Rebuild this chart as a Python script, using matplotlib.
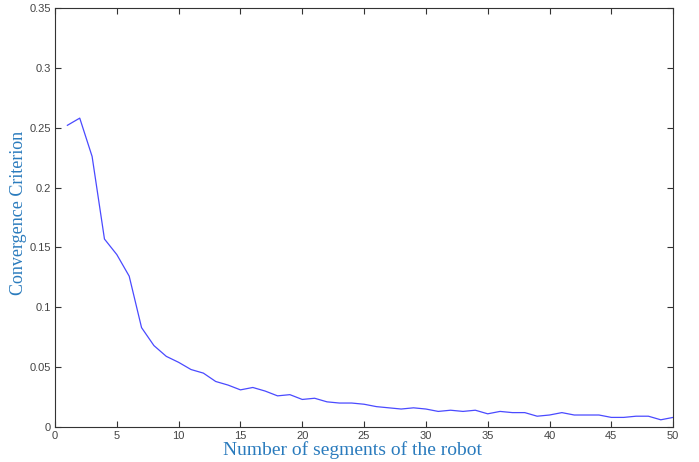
import matplotlib
matplotlib.use("Agg")
import matplotlib.pyplot as plt
import numpy as np

segments = np.arange(1, 51)
criterion = [0.252, 0.258, 0.226, 0.157, 0.144, 0.126, 0.083, 0.068, 0.059, 0.054,
             0.048, 0.045, 0.038, 0.035, 0.031, 0.033, 0.030, 0.026, 0.027, 0.023,
             0.024, 0.021, 0.020, 0.020, 0.019, 0.017, 0.016, 0.015, 0.016, 0.015,
             0.013, 0.014, 0.013, 0.014, 0.011, 0.013, 0.012, 0.012, 0.009, 0.010,
             0.012, 0.010, 0.010, 0.010, 0.008, 0.008, 0.009, 0.009, 0.006, 0.008]

label_col = '#2a7bbd'

fig = plt.figure(figsize=(6.99, 4.62), dpi=100)
ax = fig.add_axes([0.0787, 0.0758, 0.8843, 0.9069])

ax.plot(segments, criterion, color='#4a4aff', linewidth=0.9)

ax.set_xlim(0, 50)
ax.set_ylim(0, 0.35)
ax.set_xticks(np.arange(0, 51, 5))
ax.set_yticks(np.arange(0, 0.351, 0.05))
ax.set_yticklabels(['0', '0.05', '0.1', '0.15', '0.2', '0.25', '0.3', '0.35'])
ax.tick_params(direction='in', top=True, right=True, length=4, width=0.8,
               labelsize=8, labelcolor='#444444', color='#333333')
ax.tick_params(axis='x', pad=3)
ax.tick_params(axis='y', pad=3)
for lab in ax.get_xticklabels() + ax.get_yticklabels():
    lab.set_family('Liberation Sans')
for s in ax.spines.values():
    s.set_linewidth(0.8)
    s.set_color('#333333')

ax.set_xlabel('Number of segments of the robot', family='Liberation Serif',
              fontsize=14, color=label_col)
ax.set_ylabel('Convergence Criterion', family='Liberation Serif',
              fontsize=13, color=label_col)
ax.xaxis.set_label_coords(0.482, -0.033)
ax.yaxis.set_label_coords(-0.045, 0.51)

fig.savefig('out.png', dpi=100)
